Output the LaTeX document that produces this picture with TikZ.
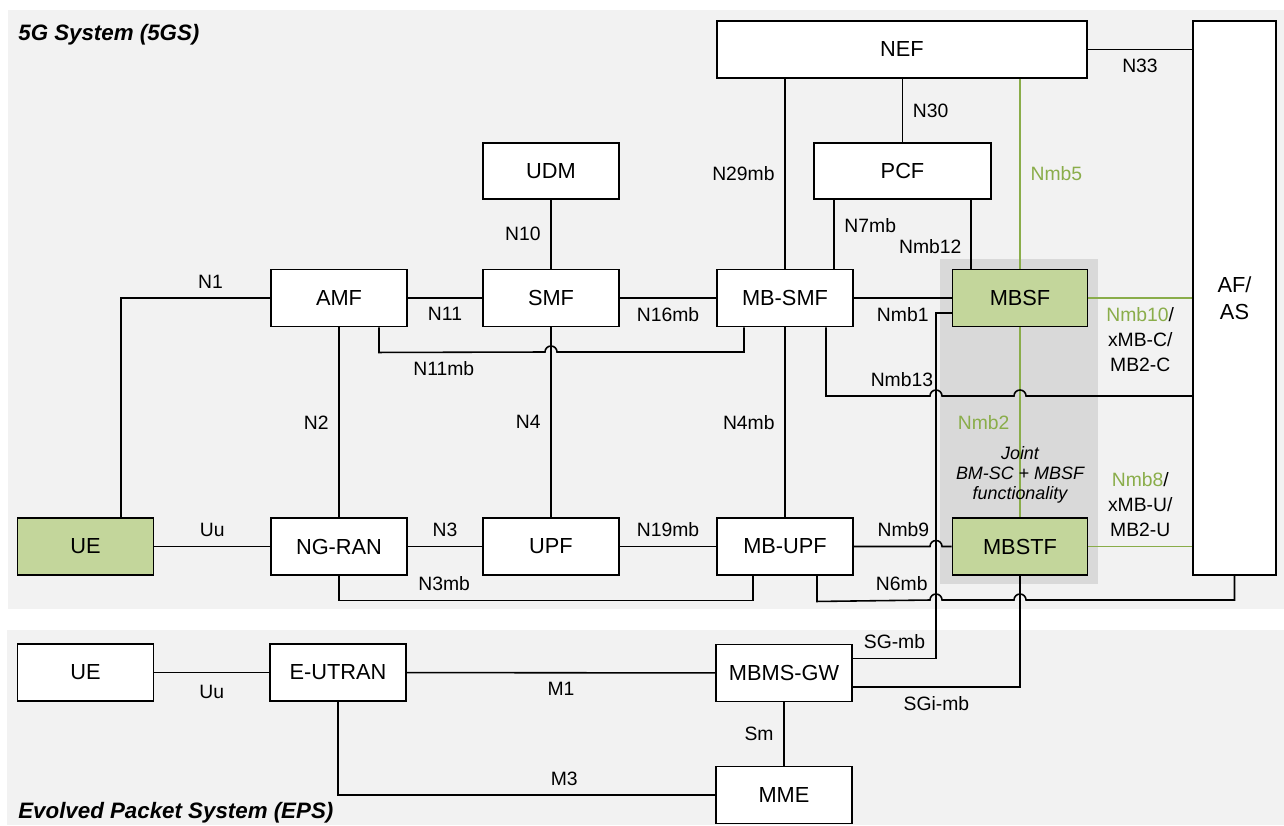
\documentclass[tikz,border=0pt]{standalone}
\usepackage{fontspec}
\setmainfont{Liberation Sans}
\definecolor{bggray}{HTML}{F2F2F2}
\definecolor{jointgray}{HTML}{D9D9D9}
\definecolor{mbfill}{HTML}{C3D69B}
\definecolor{mbgreen}{HTML}{8AAD4A}
\tikzset{
  nf/.style={draw, line width=1.1pt, fill=white, minimum width=2.72cm, minimum height=1.14cm, inner sep=0pt, font=\fontsize{12.4}{15.5}\selectfont},
  mbnf/.style={nf, fill=mbfill},
  ifc/.style={line width=0.9pt},
  gifc/.style={line width=1pt, draw=mbgreen},
  lbl/.style={inner sep=2pt, font=\fontsize{11}{14.2}\selectfont},
  glbl/.style={lbl, text=mbgreen},
  area/.style={inner sep=0pt, anchor=base west, font=\fontsize{12.7}{15}\selectfont\bfseries\itshape},
}
\begin{document}
\begin{tikzpicture}[x=0.02cm, y=-0.02cm]
\useasboundingbox (0,0) rectangle (1284,825);
\fill[white] (0,0) rectangle (1284,825);
\fill[bggray] (8,10) rectangle (1284,609);
\fill[bggray] (7,630) rectangle (1284,825);
\fill[jointgray] (940,259) rectangle (1098,584);
\node[area] (T5GS) at (18,40) {5G System (5GS)};
\node[area] (TEPS) at (18,818) {Evolved Packet System (EPS)};

\node[nf, minimum width=7.4cm] (NEF) at (902,49.5) {NEF};
\node[nf, minimum width=1.66cm, minimum height=11.08cm, align=center] (AFAS) at (1234.5,298) {AF/\\AS};
\node[nf, minimum height=1.12cm] (UDM) at (551,171) {UDM};
\node[nf, minimum width=3.54cm, minimum height=1.12cm] (PCF) at (902.5,171) {PCF};
\node[nf] (AMF) at (339,298) {AMF};
\node[nf] (SMF) at (551,298) {SMF};
\node[nf] (MBSMF) at (785,298) {MB-SMF};
\node[mbnf, minimum width=2.7cm] (MBSF) at (1020,298) {MBSF};
\node[mbnf] (UE) at (85.5,546.5) {UE};
\node[nf] (NGRAN) at (339,546.5) {NG-RAN};
\node[nf] (UPF) at (551,546.5) {UPF};
\node[nf] (MBUPF) at (785,546.5) {MB-UPF};
\node[mbnf, minimum width=2.7cm] (MBSTF) at (1020,546.5) {MBSTF};
\node[nf] (UEeps) at (85.5,672.5) {UE};
\node[nf] (EUTRAN) at (338,672.5) {E-UTRAN};
\node[nf] (MBMSGW) at (784,673) {MBMS-GW};
\node[nf] (MME) at (784,795) {MME};
\coordinate (sgx) at (936,313);

\draw[ifc] ([xshift=0.71cm]UE.north) |- node[lbl, pos=0.8, above=3pt]{N1} (AMF.west);
\draw[ifc] (UE) -- node[lbl, above=3pt]{Uu} (NGRAN);
\draw[ifc] (NGRAN) -- node[lbl, above=3pt]{N3} (UPF);
\draw[ifc] (UPF) -- node[lbl, above=3pt]{N19mb} (MBUPF);
\draw[ifc] (MBUPF.east) -- node[lbl, pos=0.65, above=3pt]{Nmb9} ([xshift=-0.12cm]sgx |- MBUPF.east) arc[start angle=180, end angle=0, radius=0.12cm] -- (MBSTF.west);
\draw[gifc] (MBSTF.east) -- node[lbl, above=3pt, align=center]{\textcolor{mbgreen}{Nmb8}/\\xMB-U/\\MB2-U} (MBSTF.east -| AFAS.west);
\draw[gifc] (MBSF) -- node[lbl, below=3pt, align=center]{\textcolor{mbgreen}{Nmb10}/\\xMB-C/\\MB2-C} (AFAS);
\draw[ifc] (AMF) -- node[lbl, below=3pt]{N11} (SMF);
\draw[ifc] (SMF) -- node[lbl, below=3pt]{N16mb} (MBSMF);
\draw[ifc] (MBSMF) -- node[lbl, below=3pt]{Nmb1} (MBSF);
\draw[ifc] ([xshift=0.8cm]AMF.south) -- ++(0,25) -- node[lbl, pos=0.39, below=3pt]{N11mb} ([xshift=-0.12cm]SMF.south |- 0,352) arc[start angle=180, end angle=0, radius=0.12cm] -| ([xshift=-0.82cm]MBSMF.south);
\draw[ifc] (AMF) -- node[lbl, left=3.5pt]{N2} (NGRAN);
\draw[ifc] (SMF) -- node[lbl, left=3.5pt]{N4} (UPF);
\draw[ifc] (MBSMF) -- node[lbl, left=3.5pt]{N4mb} (MBUPF);
\draw[ifc] (UDM) -- node[lbl, left=3.5pt]{N10} (SMF);
\draw[ifc] (MBSMF.north |- NEF.south) -- node[lbl, left=3.5pt]{N29mb} (MBSMF.north);
\draw[ifc] (NEF.south -| PCF.north) -- node[lbl, right=3.5pt]{N30} (PCF.north);
\draw[ifc] ([xshift=-1.37cm]PCF.south) -- node[lbl, pos=0.37, right=3.5pt]{N7mb} ([xshift=-1.37cm]PCF.south |- MBSMF.north);
\draw[ifc] ([xshift=1.37cm]PCF.south) -- node[lbl, pos=0.68, left=3pt]{Nmb12} ([xshift=1.37cm]PCF.south |- MBSF.north);
\draw[gifc] (MBSF.north |- NEF.south) -- node[glbl, right=3.5pt]{Nmb5} (MBSF.north);
\draw[ifc] (NEF.east) -- node[lbl, below=3pt]{N33} (NEF.east -| AFAS.west);
\draw[gifc] (MBSF) -- node[glbl, left=3.5pt]{Nmb2} (MBSTF);
\node[font=\fontsize{10.2}{11.3}\selectfont\itshape, align=center] (joint) at (1020,475) {Joint\\BM-SC + MBSF\\functionality};
\draw[ifc] ([xshift=0.82cm]MBSMF.south) -- ([xshift=0.82cm]MBSMF.south |- 0,396) -- node[lbl, pos=0.73, above=3pt]{Nmb13} ([xshift=-0.12cm]sgx |- 0,396) arc[start angle=180, end angle=0, radius=0.12cm] -- ([xshift=-0.12cm]MBSF.south |- 0,396) arc[start angle=180, end angle=0, radius=0.12cm] -- (AFAS.west |- 0,396);
\draw[ifc] (NGRAN.south) -- ++(0,24.5) -| node[lbl, pos=0.127, above=3pt]{N3mb} ([xshift=-0.64cm]MBUPF.south);
\draw[ifc] ([xshift=0.64cm]MBUPF.south) -- ++(0,25.5) -- node[lbl, pos=0.75, above=3pt]{N6mb} ([xshift=-0.12cm]sgx |- 0,600) arc[start angle=180, end angle=0, radius=0.12cm] -- ([xshift=-0.12cm]MBSTF.south |- 0,600) arc[start angle=180, end angle=0, radius=0.12cm] -| (AFAS.south);
\draw[ifc] ([yshift=-0.3cm]MBSF.west) -| ([yshift=0.29cm]MBMSGW.east -| sgx) -- node[lbl, above=3pt]{SG-mb} ([yshift=0.29cm]MBMSGW.east);
\draw[ifc] (MBSTF.south) |- node[lbl, pos=0.75, below=3pt]{SGi-mb} ([yshift=-0.28cm]MBMSGW.east);
\draw[ifc] (UEeps) -- node[lbl, below=5pt]{Uu} (EUTRAN);
\draw[ifc] (EUTRAN) -- node[lbl, below=3pt]{M1} (MBMSGW);
\draw[ifc] (EUTRAN.south) |- node[lbl, pos=0.8, above=3pt]{M3} (MME.west);
\draw[ifc] (MBMSGW) -- node[lbl, left=3.5pt]{Sm} (MME);
\end{tikzpicture}
\end{document}
